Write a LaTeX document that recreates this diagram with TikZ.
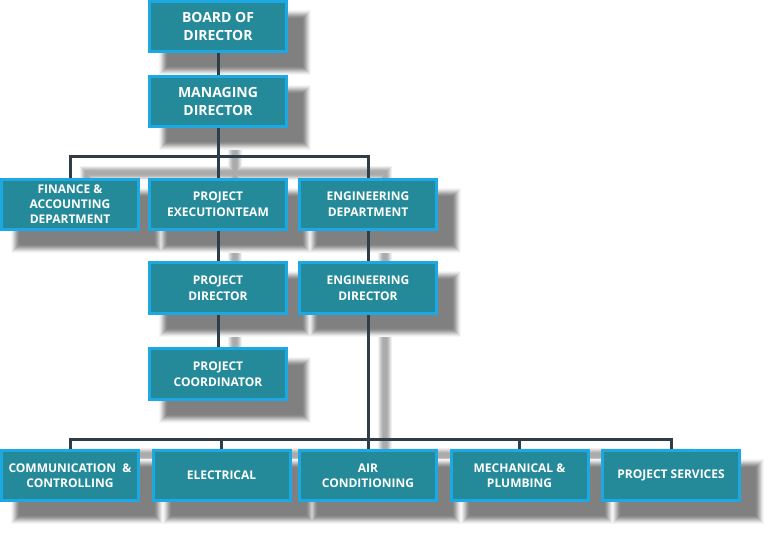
\documentclass[tikz,border=0pt]{standalone}
\usepackage{fontspec}
\newfontfamily\boxfont{Open Sans}
\usetikzlibrary{calc}
\definecolor{tealf}{RGB}{36,138,154}
\definecolor{cyanb}{RGB}{28,168,226}
\definecolor{linec}{RGB}{46,61,71}
\pgfdeclarelayer{bg}
\pgfsetlayers{bg,main}
\tikzset{
  orgbox/.style={draw=cyanb, fill=tealf, line width=3pt, minimum width=137pt,
    minimum height=50pt, inner sep=0pt, align=center, text=white,
    font=\boxfont\bfseries\fontsize{12}{15}\selectfont},
  topbox/.style={orgbox, font=\boxfont\bfseries\fontsize{14}{18}\selectfont},
  midbox/.style={orgbox, font=\boxfont\bfseries\fontsize{12}{16}\selectfont},
  conn/.style={draw=linec, line width=3pt, line join=miter},
  connshadow/.style={draw=black!#1, line width=\lw pt},
}
\newcommand\allboxes{board,managing,finance,projexec,engdept,projdir,engdir,projcoord,comm,elec,air,mech,serv}
\newcommand\orgconnectors[1]{%
  \draw[#1] (board.south) -- (managing.north);
  \draw[#1] (managing.south) -- (projexec.north);
  \draw[#1] (finance.north) |- (bus1) -| (engdept.north);
  \draw[#1] (projexec.south) -- (projdir.north);
  \draw[#1] (projdir.south) -- (projcoord.north);
  \draw[#1] (engdept.south) -- (engdir.north);
  \draw[#1] (engdir.south) -- (air.north);
  \draw[#1] (comm.north) |- (bus2) -| (serv.north);
  \draw[#1] (elec.north) -- (elec.north |- bus2);
  \draw[#1] (mech.north) -- (mech.north |- bus2);
}
\begin{document}
\begin{tikzpicture}[x=1pt,y=-1pt]
\useasboundingbox (0,0) rectangle (768,534);
\node[topbox] (board) at (218,26.5) {BOARD OF\\DIRECTOR};
\node[topbox] (managing) at (218,101.5) {MANAGING\\DIRECTOR};
\node[orgbox] (finance) at (70,204.5) {FINANCE \&\\ACCOUNTING\\DEPARTMENT};
\node[midbox] (projexec) at (218,204.5) {PROJECT\\EXECUTIONTEAM};
\node[midbox] (engdept) at (368,204.5) {ENGINEERING\\DEPARTMENT};
\node[midbox, minimum height=51pt] (projdir) at (218,288) {PROJECT\\DIRECTOR};
\node[midbox, minimum height=51pt] (engdir) at (368,288) {ENGINEERING\\DIRECTOR};
\node[midbox, minimum height=51pt] (projcoord) at (218,374) {PROJECT\\COORDINATOR};
\node[orgbox] (comm) at (70,475.5) {COMMUNICATION\ \ \&\\CONTROLLING};
\node[orgbox] (elec) at (221.5,475.5) {ELECTRICAL};
\node[orgbox] (air) at (368,475.5) {AIR\\CONDITIONING};
\node[orgbox] (mech) at (519.5,475.5) {MECHANICAL \&\\PLUMBING};
\node[orgbox] (serv) at (671,475.5) {PROJECT SERVICES};
\coordinate (bus1) at (218,157);
\coordinate (bus2) at (368,439);
\begin{pgfonlayer}{bg}
  \begin{scope}[transform canvas={xshift=17pt,yshift=-16pt}]
    \foreach \lw/\c in {14/6,12/12,10/19,8/25,6/30,4/33}{\orgconnectors{connshadow=\c}}
  \end{scope}
  \foreach \k/\c in {6/4,5/8,4/14,3/21,2/28,1/35,0/41,-1/46,-2/49,-3/50}{
    \foreach \n in \allboxes{
      \fill[black!\c] ([shift={(17-\k,16-\k)}]\n.north west) rectangle ([shift={(17+\k,16+\k)}]\n.south east);}}
\end{pgfonlayer}
\orgconnectors{conn}
\end{tikzpicture}
\end{document}
